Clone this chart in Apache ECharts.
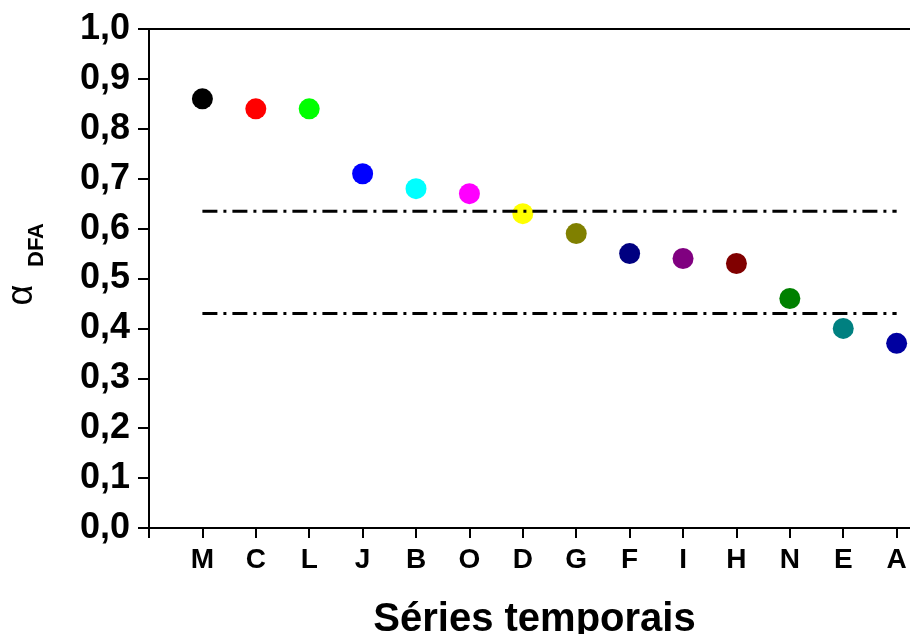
<!DOCTYPE html>
<html>
<head>
<meta charset="utf-8">
<script src="https://cdn.jsdelivr.net/npm/echarts@6/dist/echarts.min.js"></script>
<style>
  html, body { margin: 0; padding: 0; background: #fff; }
  #chart { width: 910px; height: 634px; }
</style>
</head>
<body>
<div id="chart"></div>
<script>
// Series order along the x axis
const categories = ["M", "C", "L", "J", "B", "O", "D", "G", "F", "I", "H", "N", "E", "A"];
// alpha DFA value for each series
const alphaValues = [0.86, 0.84, 0.84, 0.71, 0.68, 0.67, 0.63, 0.59, 0.55, 0.54, 0.53, 0.46, 0.40, 0.37];
const pointColors = [
  "#000000", "#ff0000", "#00ff00", "#0000ff", "#00ffff", "#ff00ff", "#ffff00",
  "#808000", "#000080", "#800080", "#800000", "#008000", "#008080", "#0000a0",
];
// horizontal reference levels (dash-dot)
const limitLevels = [0.635, 0.43];

const FONT = "Liberation Sans";
const xTickValues = [0].concat(categories.map((c, i) => i + 1));
const xLabelValues = categories.map((c, i) => i + 1);

let chart = echarts.init(document.getElementById("chart"));

let scatterData = alphaValues.map((v, i) => ({
  value: [i + 1, v],
  itemStyle: { color: pointColors[i], opacity: 1 },
}));

let limitSeries = limitLevels.map((lvl) => ({
  type: "line",
  data: [[1, lvl], [categories.length, lvl]],
  symbol: "none",
  silent: true,
  z: 4,
  lineStyle: { color: "#000", width: 3, type: [15, 6, 3, 6] },
}));

let option = {
  animation: false,
  grid: {
    left: 149,
    right: 0,
    top: 29,
    bottom: 106,
    outerBoundsMode: "none",
  },
  // y axis title: alpha with DFA subscript, rotated
  graphic: [
    {
      type: "text",
      x: 22,
      y: 295,
      rotation: Math.PI / 2,
      style: {
        text: "α",
        font: "36px " + FONT,
        fill: "#000",
        align: "center",
        verticalAlign: "middle",
      },
    },
    {
      type: "text",
      x: 37,
      y: 245,
      rotation: Math.PI / 2,
      style: {
        text: "DFA",
        font: "bold 22px " + FONT,
        fill: "#000",
        align: "center",
        verticalAlign: "middle",
      },
    },
  ],
  xAxis: [
    {
      type: "value",
      min: 0,
      max: 14.25,
      name: "Séries temporais",
      nameLocation: "middle",
      nameGap: 72,
      nameTextStyle: { fontFamily: FONT, fontWeight: "bold", fontSize: 40, color: "#000", padding: [0, 0, 0, 10] },
      axisLine: { show: true, onZero: false, lineStyle: { color: "#000", width: 2 } },
      axisTick: { show: true, length: 10, lineStyle: { color: "#000", width: 2 }, customValues: xTickValues },
      axisLabel: {
        customValues: xLabelValues,
        margin: 18,
        fontFamily: FONT,
        fontWeight: "bold",
        fontSize: 28,
        color: "#000",
        formatter: (v) => categories[Math.round(v) - 1] || "",
      },
      splitLine: { show: false },
    },
    {
      type: "value",
      position: "top",
      min: 0,
      max: 14.25,
      axisLine: { show: true, onZero: false, lineStyle: { color: "#000", width: 2 } },
      axisTick: { show: false },
      axisLabel: { show: false },
      splitLine: { show: false },
    },
  ],
  yAxis: {
    type: "value",
    min: 0,
    max: 1,
    interval: 0.1,
    axisLine: { show: true, lineStyle: { color: "#000", width: 2 } },
    axisTick: { show: true, length: 11, lineStyle: { color: "#000", width: 2 } },
    axisLabel: {
      margin: 19,
      fontFamily: FONT,
      fontWeight: "bold",
      fontSize: 36,
      color: "#000",
      formatter: (v) => v.toFixed(1).replace(".", ","),
    },
    splitLine: { show: false },
  },
  series: [
    {
      type: "scatter",
      data: scatterData,
      symbol: "circle",
      symbolSize: 21,
      z: 3,
    },
  ].concat(limitSeries),
};

chart.setOption(option);
</script>
</body>
</html>
